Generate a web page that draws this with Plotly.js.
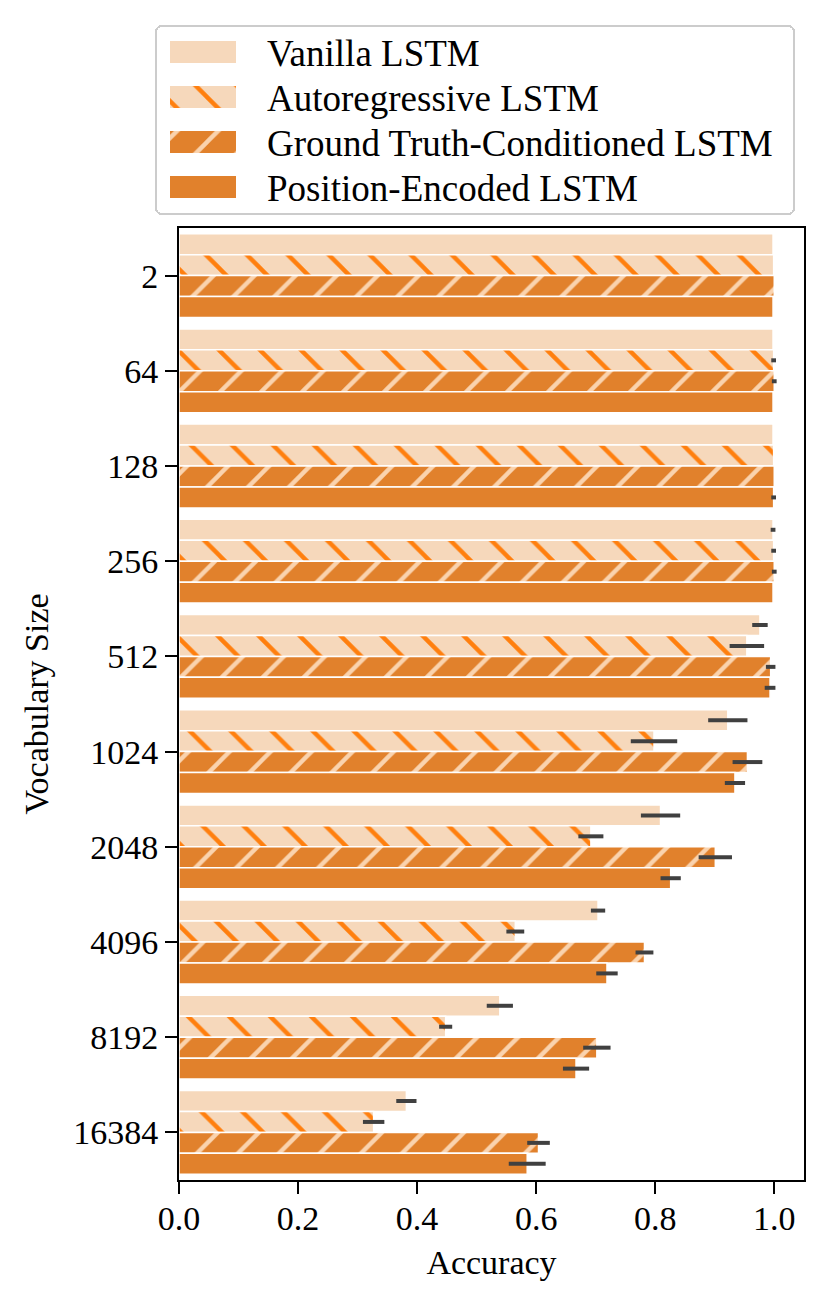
<!DOCTYPE html>
<html>
<head>
<meta charset="utf-8">
<script src="https://cdn.plot.ly/plotly-3.0.1.min.js"></script>
<style>
  html, body { margin: 0; padding: 0; background: #ffffff; }
  #chart { width: 829px; height: 1304px; }
</style>
</head>
<body>
<div id="chart"></div>
<script>
// ---- Data ----
const categories = ['2', '64', '128', '256', '512', '1024', '2048', '4096', '8192', '16384'];

const vanillaAcc = [0.998, 0.998, 0.998, 0.998, 0.976, 0.922, 0.809, 0.704, 0.539, 0.382];
const vanillaErr = [0.0, 0.0, 0.0, 0.004, 0.013, 0.033, 0.033, 0.012, 0.022, 0.017];

const autoregAcc = [0.999, 0.999, 0.999, 0.999, 0.954, 0.798, 0.692, 0.565, 0.448, 0.327];
const autoregErr = [0.0, 0.004, 0.0, 0.004, 0.029, 0.039, 0.021, 0.015, 0.011, 0.018];

const groundTruthAcc = [1.0, 1.0, 1.0, 1.0, 0.994, 0.955, 0.901, 0.782, 0.702, 0.604];
const groundTruthErr = [0.0, 0.004, 0.0, 0.004, 0.008, 0.025, 0.028, 0.015, 0.023, 0.019];

const positionAcc = [0.998, 0.998, 0.999, 0.998, 0.993, 0.934, 0.826, 0.719, 0.667, 0.585];
const positionErr = [0.0, 0.0, 0.004, 0.0, 0.009, 0.017, 0.017, 0.018, 0.022, 0.031];

const seriesNames = ['Vanilla LSTM', 'Autoregressive LSTM', 'Ground Truth-Conditioned LSTM', 'Position-Encoded LSTM'];
const xTicks = [0.0, 0.2, 0.4, 0.6, 0.8, 1.0];
const xTickLabels = ['0.0', '0.2', '0.4', '0.6', '0.8', '1.0'];

// ---- Styles ----
const LIGHT = '#F6D8BB';
const ORANGE = '#E1812C';
const HATCH_ORANGE = '#FF7F0E';
const HATCH_LIGHT = '#FAD3AE';
const ERR = '#404040';
const FONT = 'Liberation Serif, Times New Roman, serif';

function barTrace(name, x, err, fill, pattern) {
  const t = {
    type: 'bar',
    orientation: 'h',
    name: name,
    y: categories,
    x: x,
    marker: { color: fill, line: { color: '#ffffff', width: 1.5 } },
    error_x: { type: 'data', array: err, visible: true, color: ERR, thickness: 4, width: 0 },
    hoverinfo: 'x+y+name'
  };
  if (pattern) t.marker.pattern = pattern;
  return t;
}

const traces = [
  barTrace(seriesNames[0], vanillaAcc, vanillaErr, LIGHT, null),
  barTrace(seriesNames[1], autoregAcc, autoregErr, LIGHT,
    { shape: '\\', fgcolor: HATCH_ORANGE, bgcolor: LIGHT, size: 29, solidity: 0.15, fillmode: 'replace' }),
  barTrace(seriesNames[2], groundTruthAcc, groundTruthErr, ORANGE,
    { shape: '/', fgcolor: HATCH_LIGHT, bgcolor: ORANGE, size: 29, solidity: 0.15, fillmode: 'replace' }),
  barTrace(seriesNames[3], positionAcc, positionErr, ORANGE, null)
];

const layout = {
  width: 829,
  height: 1304,
  margin: { l: 179, r: 25, t: 228, b: 124, pad: 0 },
  paper_bgcolor: '#ffffff',
  plot_bgcolor: '#ffffff',
  barmode: 'group',
  bargap: 0.12,
  bargroupgap: 0,
  font: { family: FONT, size: 34, color: '#000000' },
  showlegend: true,
  legend: {
    x: -0.0384, xanchor: 'left',
    y: 1.2132, yanchor: 'top',
    bgcolor: '#ffffff',
    bordercolor: '#cccccc',
    borderwidth: 2,
    font: { family: FONT, size: 37, color: '#000000' },
    itemwidth: 90,
    traceorder: 'normal',
    tracegroupgap: 0
  },
  xaxis: {
    range: [0, 1.05],
    tickmode: 'array',
    tickvals: xTicks,
    ticktext: xTickLabels,
    ticks: 'outside',
    ticklen: 12,
    tickwidth: 2,
    tickcolor: '#000000',
    ticklabelstandoff: -5,
    showgrid: false,
    zeroline: false,
    showline: true,
    linecolor: '#000000',
    linewidth: 2,
    mirror: true,
    tickfont: { family: FONT, size: 34 },
    title: { text: 'Accuracy', font: { family: FONT, size: 34 }, standoff: 14 }
  },
  yaxis: {
    type: 'category',
    categoryorder: 'array',
    categoryarray: categories,
    autorange: 'reversed',
    ticks: 'outside',
    ticklen: 12,
    tickwidth: 2,
    tickcolor: '#000000',
    showgrid: false,
    zeroline: false,
    showline: true,
    linecolor: '#000000',
    linewidth: 2,
    mirror: true,
    tickfont: { family: FONT, size: 34 },
    title: { text: 'Vocabulary Size', font: { family: FONT, size: 34 }, standoff: 14 }
  }
};

// legend geometry in page pixels (matplotlib-like look)
const LEG_W = 640, LEG_H = 190, ROW0 = 27, ROW_STEP = 45;
const SW_X0 = 15, SW_X1 = 81, SW_H = 22, TEXT_X = 112;

Plotly.newPlot('chart', traces, layout, { displayModeBar: false, staticPlot: true }).then(function (gd) {
  const bg = gd.querySelector('.legend rect.bg');
  if (!bg) return;
  bg.setAttribute('width', LEG_W - 2);
  bg.setAttribute('height', LEG_H - 2);
  bg.setAttribute('rx', 6);
  bg.setAttribute('ry', 6);
  const clip = document.querySelectorAll('clipPath[id*="legend"] rect');
  clip.forEach(function (r) { r.setAttribute('width', LEG_W); r.setAttribute('height', LEG_H); });

  const bgBox = bg.getBoundingClientRect();
  const L = bgBox.left - 1, T = bgBox.top - 1;

  const barTraces = gd.querySelectorAll('.barlayer .trace');
  const items = gd.querySelectorAll('.legend .traces');
  items.forEach(function (g, i) {
    const tr = g.getAttribute('transform') || '';
    const m = tr.match(/translate\(([-\d.]+)[ ,]*([-\d.]+)?\)/);
    const tx = m ? parseFloat(m[1]) : 0;
    const curScreen = g.getScreenCTM();
    const curY = m && m[2] ? parseFloat(m[2]) : 0;
    const wantScreenY = T + ROW0 + ROW_STEP * i;
    const newY = curY + (wantScreenY - curScreen.f);
    g.setAttribute('transform', 'translate(' + tx + ',' + newY + ')');

    const lp = g.querySelector('.legendpoints');
    const p = lp ? lp.querySelector('path') : null;
    if (p) {
      const pm = p.getScreenCTM();
      const x0 = L + SW_X0 - pm.e, x1 = L + SW_X1 - pm.e;
      const yc = wantScreenY - pm.f;
      p.setAttribute('d', 'M' + x0 + ',' + (yc - SW_H / 2) + 'H' + x1 + 'V' + (yc + SW_H / 2) + 'H' + x0 + 'Z');
      p.style.strokeWidth = '0px';
      const barPath = barTraces[i] ? barTraces[i].querySelector('path') : null;
      if (barPath && barPath.style.fill) p.style.fill = barPath.style.fill;
    }
    const t = g.querySelector('text.legendtext');
    if (t) {
      const gm = g.getScreenCTM();
      t.setAttribute('x', L + TEXT_X - gm.e);
    }
  });
});
</script>
</body>
</html>
